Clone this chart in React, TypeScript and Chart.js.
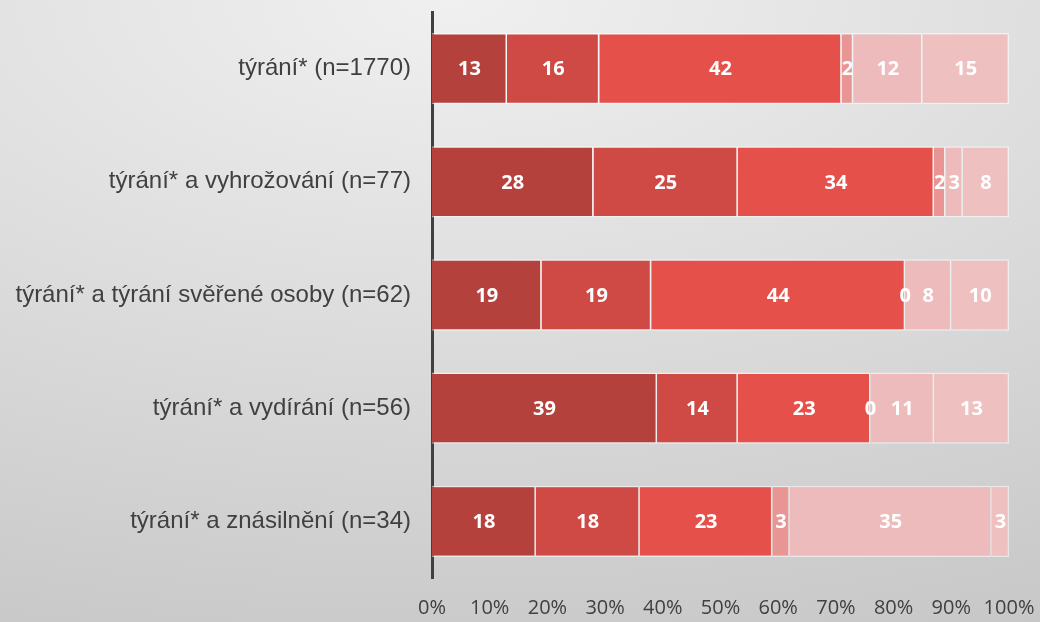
import React, { useEffect, useRef } from "react";
import { Chart, registerables } from "chart.js";

Chart.register(...registerables);

const categories = [
  "týrání* (n=1770)",
  "týrání* a vyhrožování (n=77)",
  "týrání* a týrání svěřené osoby (n=62)",
  "týrání* a vydírání (n=56)",
  "týrání* a znásilnění (n=34)",
];

const series1 = [13, 28, 19, 39, 18];
const series2 = [16, 25, 19, 14, 18];
const series3 = [42, 34, 44, 23, 23];
const series4 = [2, 2, 0, 0, 3];
const series5 = [12, 3, 8, 11, 35];
const series6 = [15, 8, 10, 13, 3];

const seriesColors = ["#B5413C", "#CF4A44", "#E6504A", "#E89593", "#EDBBBB", "#EEC0C0"];
const xTicks = [0, 10, 20, 30, 40, 50, 60, 70, 80, 90, 100];

const labelPlugin = {
  id: "segLabels",
  afterDatasetsDraw(chart: any) {
    const ctx = chart.ctx;
    ctx.save();
    ctx.fillStyle = "#ffffff";
    ctx.font = "bold 20px 'Open Sans'";
    ctx.textAlign = "center";
    ctx.textBaseline = "middle";
    chart.data.datasets.forEach((ds: any, i: number) => {
      const meta = chart.getDatasetMeta(i);
      meta.data.forEach((el: any, j: number) => {
        const x = (el.x + el.base) / 2;
        ctx.fillText(String(ds.data[j]), x, el.y + 1);
      });
    });
    ctx.restore();
  },
};

export default function App() {
  const ref = useRef<HTMLCanvasElement | null>(null);
  useEffect(() => {
    document.body.style.margin = "0";
    const all = [series1, series2, series3, series4, series5, series6];
    const chart = new Chart(ref.current as HTMLCanvasElement, {
      type: "bar",
      data: {
        labels: categories,
        datasets: all.map((d, i) => ({
          label: "s" + (i + 1),
          data: d,
          backgroundColor: seriesColors[i],
          borderColor: "rgba(255,255,255,0.55)",
          borderWidth: 1.5,
          categoryPercentage: 0.63,
          barPercentage: 1,
        })),
      },
      options: {
        indexAxis: "y",
        animation: false,
        responsive: false,
        maintainAspectRatio: false,
        layout: { padding: { top: 12, right: 31, bottom: 0, left: 0 } },
        plugins: { legend: { display: false }, tooltip: { enabled: false } },
        scales: {
          x: {
            stacked: true,
            min: 0,
            max: 100,
            afterBuildTicks: (scale: any) => {
              scale.ticks = xTicks.map((v) => ({ value: v }));
            },
            grid: { display: false, drawTicks: false },
            border: { display: false },
            ticks: {
              callback: (v: any) => v + "%",
              color: "#404040",
              font: { family: "'Open Sans'", size: 20 },
              padding: 18,
              maxRotation: 0,
              autoSkip: false,
            },
            afterFit: (scale: any) => {
              scale.height = 44;
              scale.paddingLeft = 0;
              scale.paddingRight = 0;
            },
          },
          y: {
            stacked: true,
            grid: { display: false, drawTicks: false },
            border: { display: true, color: "#404040", width: 3 },
            ticks: {
              color: "#404040",
              font: { family: "'Liberation Sans'", size: 24 },
              padding: 21,
            },
            afterFit: (scale: any) => {
              scale.width = 432;
              scale.paddingTop = 0;
              scale.paddingBottom = 0;
            },
          },
        },
      },
      plugins: [labelPlugin],
    });
    return () => chart.destroy();
  }, []);
  return (
    <div
      style={{
        width: 1040,
        height: 622,
        background: "radial-gradient(2074px 1008px at 450px 0px, #f0f0f0 0%, #b4b4b4 100%)",
      }}
    >
      <canvas ref={ref} width={1040} height={622} style={{ display: "block" }} />
    </div>
  );
}
